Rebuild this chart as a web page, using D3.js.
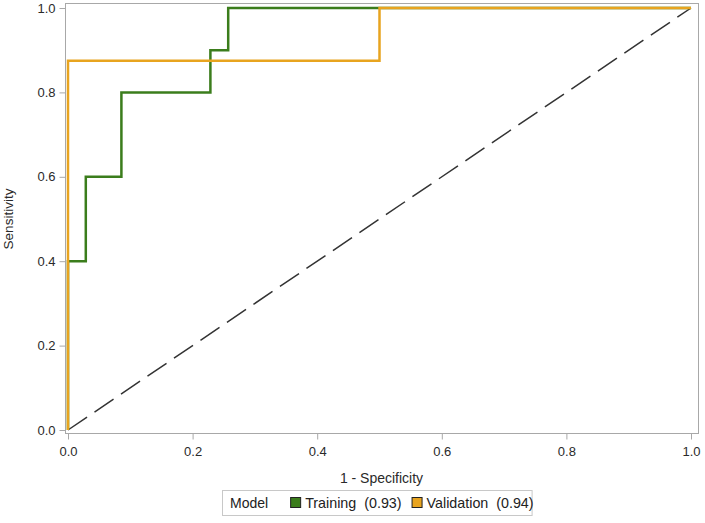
<!DOCTYPE html>
<html>
<head>
<meta charset="utf-8">
<script src="https://cdn.jsdelivr.net/npm/d3@7"></script>
<style>
  html, body { margin: 0; padding: 0; background: #fff; }
  svg { display: block; font-family: "Liberation Sans", Arial, sans-serif; }
</style>
</head>
<body>
<div id="chart"></div>
<script>
// ROC curves (1 - specificity, sensitivity)
const trainingFpr = [0, 0, 1 / 35, 1 / 35, 3 / 35, 3 / 35, 8 / 35, 8 / 35, 9 / 35, 9 / 35, 1]
const trainingTpr = [0, 0.4, 0.4, 0.6, 0.6, 0.8, 0.8, 0.9, 0.9, 1, 1]
const validationFpr = [0, 0, 0.5, 0.5, 1]
const validationTpr = [0, 0.875, 0.875, 1, 1]
const tickValues = [0, 0.2, 0.4, 0.6, 0.8, 1]
const seriesNames = ['Training (0.93)', 'Validation (0.94)']
const seriesColors = ['#3b7d1c', '#e8a41f']

const width = 705
const height = 523
const margin = { top: 8, right: 14, bottom: 93, left: 68 }

const svg = d3.select('#chart')
  .append('svg')
  .attr('width', width)
  .attr('height', height)

const x = d3.scaleLinear().domain([0, 1]).range([margin.left, width - margin.right])
const y = d3.scaleLinear().domain([0, 1]).range([height - margin.bottom, margin.top])

// frame sits a little outside the data range
const frame = { x0: 65, x1: 698, y0: 3, y1: 433 }

svg.append('rect')
  .attr('x', frame.x0 + 0.5)
  .attr('y', frame.y0 + 0.5)
  .attr('width', frame.x1 - frame.x0)
  .attr('height', frame.y1 - frame.y0)
  .attr('fill', 'none')
  .attr('stroke', '#a8a8a8')
  .attr('stroke-width', 1)

const fmt = d3.format('.1f')

const xAxis = g => g
  .attr('transform', `translate(0,${frame.y1 + 0.5})`)
  .call(d3.axisBottom(x).tickValues(tickValues).tickFormat(fmt).tickSize(6).tickPadding(7))
  .call(g => g.select('.domain').remove())
  .call(g => g.selectAll('line').attr('stroke', '#a8a8a8'))
  .call(g => g.selectAll('text').attr('fill', '#2a2a2a').style('font-size', '13px'))

const yAxis = g => g
  .attr('transform', `translate(${frame.x0 + 0.5},0)`)
  .call(d3.axisLeft(y).tickValues(tickValues).tickFormat(fmt).tickSize(6).tickPadding(4))
  .call(g => g.select('.domain').remove())
  .call(g => g.selectAll('line').attr('stroke', '#a8a8a8'))
  .call(g => g.selectAll('text').attr('fill', '#2a2a2a').style('font-size', '13px'))

svg.append('g').attr('class', 'x').call(xAxis)
svg.append('g').attr('class', 'y').call(yAxis)

svg.append('text')
  .attr('x', (frame.x0 + frame.x1) / 2)
  .attr('y', 483)
  .attr('text-anchor', 'middle')
  .attr('fill', '#2a2a2a')
  .style('font-size', '14px')
  .text('1 - Specificity')

svg.append('text')
  .attr('transform', `translate(13,${(y(0) + y(1)) / 2}) rotate(-90)`)
  .attr('text-anchor', 'middle')
  .attr('fill', '#2a2a2a')
  .style('font-size', '13.5px')
  .text('Sensitivity')

// reference diagonal
svg.append('line')
  .attr('x1', x(0)).attr('y1', y(0))
  .attr('x2', x(1)).attr('y2', y(1))
  .attr('stroke', '#333')
  .attr('stroke-width', 1.5)
  .attr('stroke-dasharray', '23,9')

const line = d3.line()
  .x(d => x(d[0]))
  .y(d => y(d[1]))

const series = [
  d3.zip(trainingFpr, trainingTpr),
  d3.zip(validationFpr, validationTpr)
]

svg.append('g')
  .selectAll('path')
  .data(series)
  .join('path')
  .attr('d', line)
  .attr('fill', 'none')
  .attr('stroke', (d, i) => seriesColors[i])
  .attr('stroke-width', 2.5)
  .attr('stroke-linejoin', 'miter')

// legend
const legend = svg.append('g').attr('class', 'legend')
const box = legend.append('rect')
  .attr('fill', 'none')
  .attr('stroke', '#c8c8c8')

const lx = 230
const ly = 508
const title = legend.append('text')
  .attr('x', lx).attr('y', ly)
  .attr('fill', '#222')
  .style('font-size', '14px')
  .text('Model')

let cx = lx + title.node().getComputedTextLength() + 22
seriesNames.forEach((name, i) => {
  legend.append('rect')
    .attr('x', cx + 0.5).attr('y', ly - 10.5)
    .attr('width', 10).attr('height', 10)
    .attr('fill', seriesColors[i])
    .attr('stroke', '#222')
  const t = legend.append('text')
    .attr('x', cx + 15).attr('y', ly)
    .attr('fill', '#222')
    .style('font-size', '14.3px')
    .style('white-space', 'pre')
    .text(name.replace(' (', '  ('))
  cx += 15 + t.node().getComputedTextLength() + 10
})

box.attr('x', lx - 7.5).attr('y', ly - 17.5)
  .attr('width', cx - lx - 4).attr('height', 25)
</script>
</body>
</html>
